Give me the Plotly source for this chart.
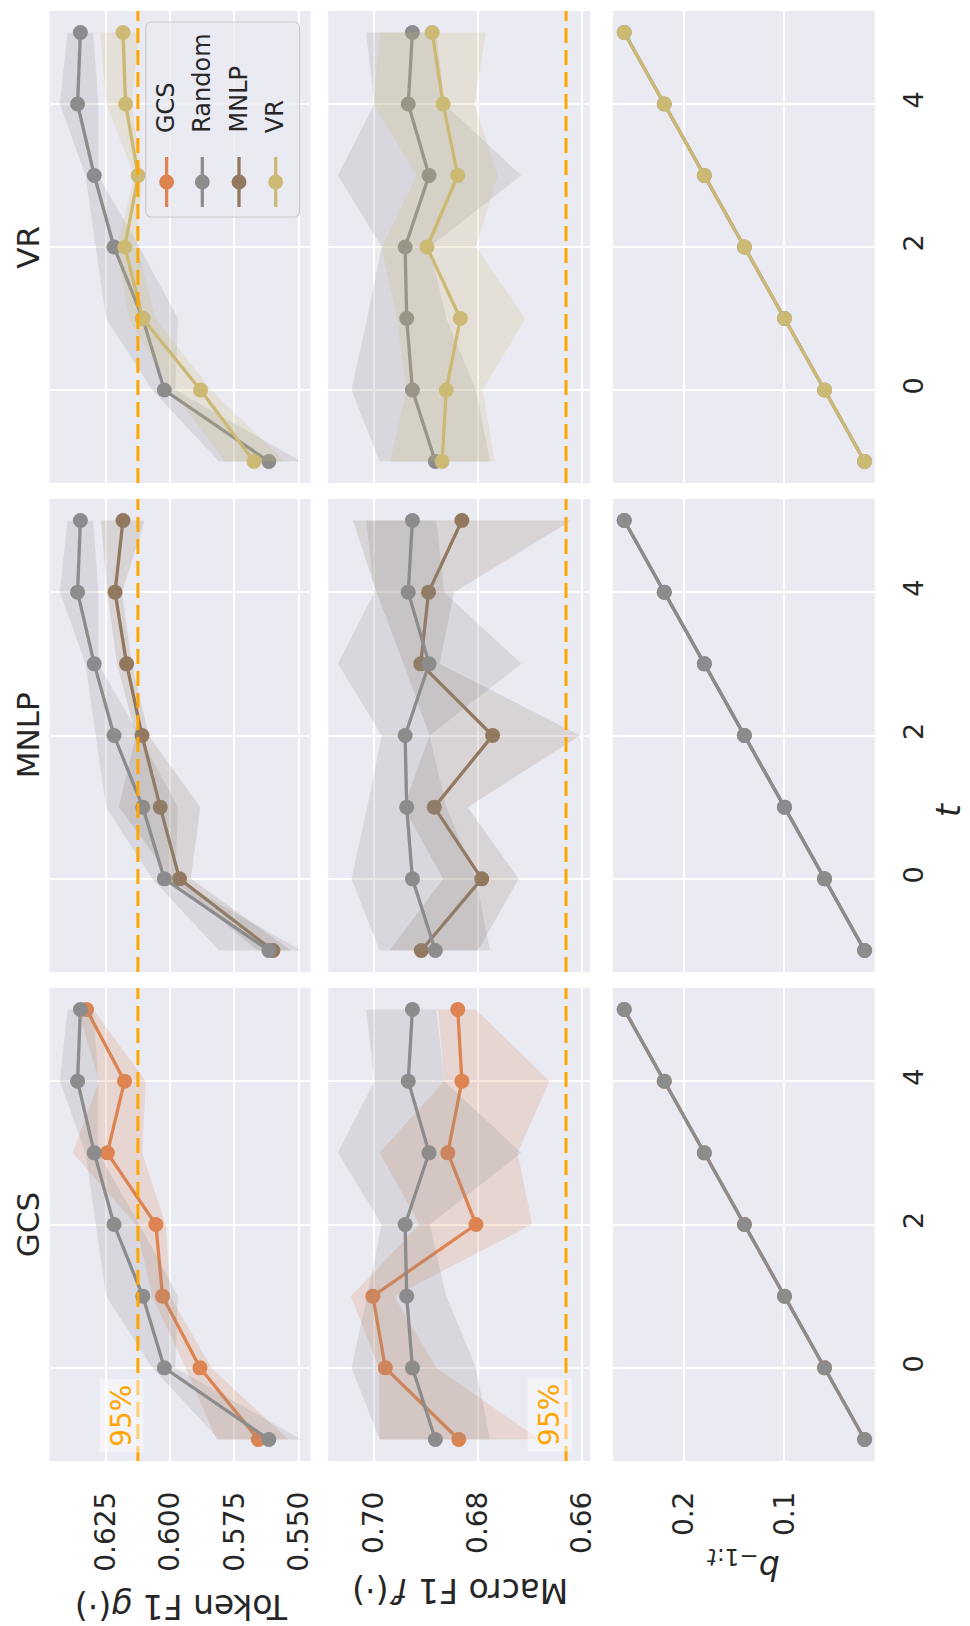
import plotly.graph_objects as go
from plotly.subplots import make_subplots

W, H = 970, 1626

# ---- data -------------------------------------------------------------
t_steps = [-1, 0, 1, 2, 3, 4, 5]
datasets = ["VR", "MNLP", "GCS"]          # top band -> bottom band
methods = ["GCS", "Random", "MNLP", "VR"]
colors = {"GCS": "#DD8452", "Random": "#8C8C8C", "MNLP": "#937860", "VR": "#CCB974"}
fills = {"GCS": "rgba(221,132,82,0.2)", "Random": "rgba(140,140,140,0.2)",
         "MNLP": "rgba(147,120,96,0.2)", "VR": "rgba(204,185,116,0.2)"}

# Token F1 g(.)
token_mean = {
    "Random": [0.5616, 0.6023, 0.6107, 0.6219, 0.6296, 0.6361, 0.6350],
    "GCS":    [0.5657, 0.5884, 0.6030, 0.6056, 0.6245, 0.6178, 0.6326],
    "MNLP":   [0.5600, 0.5964, 0.6039, 0.6110, 0.6170, 0.6215, 0.6184],
    "VR":     [0.5674, 0.5882, 0.6107, 0.6177, 0.6125, 0.6174, 0.6184],
}
token_lo = {
    "Random": [0.549, 0.598, 0.597, 0.612, 0.628, 0.628, 0.630],
    "GCS":    [0.554, 0.584, 0.600, 0.6018, 0.611, 0.6095, 0.630],
    "MNLP":   [0.553, 0.592, 0.5883, 0.6084, 0.615, 0.6188, 0.610],
    "VR":     [0.5555, 0.584, 0.6057, 0.613, 0.611, 0.615, 0.6123],
}
token_hi = {
    "Random": [0.581, 0.607, 0.625, 0.629, 0.633, 0.643, 0.640],
    "GCS":    [0.582, 0.594, 0.607, 0.6134, 0.638, 0.6277, 0.636],
    "MNLP":   [0.566, 0.5995, 0.620, 0.6134, 0.6207, 0.6246, 0.627],
    "VR":     [0.5786, 0.5995, 0.6161, 0.6207, 0.614, 0.625, 0.6273],
}

# Macro F1 f'(.)
macro_mean = {
    "Random": [0.6882, 0.6926, 0.6937, 0.6940, 0.6894, 0.6934, 0.6926],
    "GCS":    [0.6837, 0.6978, 0.7002, 0.6804, 0.6858, 0.6831, 0.6839],
    "MNLP":   [0.6909, 0.6793, 0.6884, 0.6772, 0.6910, 0.6895, 0.6831],
    "VR":     [0.6869, 0.6861, 0.6834, 0.6898, 0.6839, 0.6867, 0.6888],
}
macro_lo = {
    "Random": [0.6777, 0.6804, 0.6861, 0.6893, 0.6717, 0.6865, 0.6880],
    "GCS":    [0.6682, 0.6880, 0.6961, 0.6696, 0.6724, 0.6663, 0.6804],
    "MNLP":   [0.6800, 0.6722, 0.6820, 0.6604, 0.6874, 0.6846, 0.6621],
    "VR":     [0.6768, 0.6791, 0.6709, 0.6804, 0.6762, 0.6807, 0.6785],
}
macro_hi = {
    "Random": [0.6989, 0.7043, 0.7013, 0.6985, 0.7069, 0.6999, 0.7015],
    "GCS":    [0.6989, 0.6990, 0.7044, 0.6912, 0.6989, 0.6865, 0.6877],
    "MNLP":   [0.6970, 0.6867, 0.6943, 0.6893, 0.6943, 0.6995, 0.7040],
    "VR":     [0.6969, 0.6937, 0.6956, 0.6985, 0.6918, 0.7001, 0.6988],
}

# labelled fraction b_{-1:t}
b_frac = [0.02, 0.06, 0.10, 0.14, 0.18, 0.22, 0.26]

thr_token = 0.6126   # 95% of full-data token F1
thr_macro = 0.6631   # 95% of full-data macro F1

token_ticks = [0.550, 0.575, 0.600, 0.625]
token_ticktext = ["0.550", "0.575", "0.600", "0.625"]
macro_ticks = [0.66, 0.68, 0.70]
macro_ticktext = ["0.66", "0.68", "0.70"]
b_ticks = [0.1, 0.2]
b_ticktext = ["0.1", "0.2"]
t_ticks = [0, 2, 4]

# drawing order inside each band
draw_order = {"GCS": ["GCS", "Random"], "MNLP": ["MNLP", "Random"], "VR": ["Random", "VR"]}

# ---- style ------------------------------------------------------------
FONT = "DejaVu Sans"
TXT = "#262626"
BG = "#EAEAF2"
XTICK_SIZE = 28
YTICK_SIZE = 27
LABEL_SIZE = 33

col_px = [(50, 313), (331, 595), (618, 882)]
row_px = [(11, 483), (499, 972), (988, 1461)]


def px_x(x):
    return x / W


def px_y(y):
    return 1 - y / H


def axid(idx):
    return "" if idx == 1 else str(idx)


fig = make_subplots(rows=3, cols=3)

for r, ds in enumerate(datasets, start=1):
    for c in range(1, 4):
        for m in draw_order[ds]:
            if c == 1:
                mean, lo, hi = token_mean[m], token_lo[m], token_hi[m]
            elif c == 2:
                mean, lo, hi = macro_mean[m], macro_lo[m], macro_hi[m]
            else:
                mean, lo, hi = b_frac, None, None
            if lo is not None:
                fig.add_trace(go.Scatter(
                    x=hi + lo[::-1], y=t_steps + t_steps[::-1],
                    fill="toself", fillcolor=fills[m], mode="lines",
                    line=dict(width=0), hoverinfo="skip", showlegend=False),
                    row=r, col=c)
            fig.add_trace(go.Scatter(
                x=mean, y=t_steps, mode="lines+markers", name=m,
                line=dict(color=colors[m], width=3.3),
                marker=dict(color=colors[m], size=15, line=dict(width=0)),
                showlegend=False),
                row=r, col=c)

# axes
x_ranges = [[0.6470, 0.5454], [0.70876, 0.65848], [0.2713, 0.0099]]
x_tickvals = [token_ticks, macro_ticks, b_ticks]
x_ticktext = [token_ticktext, macro_ticktext, b_ticktext]

for r in range(1, 4):
    y0, y1 = row_px[r - 1]
    for c in range(1, 4):
        x0, x1 = col_px[c - 1]
        fig.update_xaxes(
            domain=[px_x(x0), px_x(x1)], range=x_ranges[c - 1],
            tickvals=x_tickvals[c - 1], ticktext=x_ticktext[c - 1],
            showticklabels=(r == 3), tickangle=-90, ticklabelstandoff=24,
            tickfont=dict(family=FONT, size=XTICK_SIZE, color=TXT),
            showgrid=True, gridcolor="white", gridwidth=2,
            zeroline=False, showline=False, ticks="",
            row=r, col=c)
        fig.update_yaxes(
            domain=[px_y(y1), px_y(y0)], range=[-1.3, 5.3],
            tickvals=t_ticks, showticklabels=(c == 3), side="right",
            tickangle=-90, ticklabelstandoff=20,
            tickfont=dict(family=FONT, size=YTICK_SIZE, color=TXT),
            showgrid=True, gridcolor="white", gridwidth=2,
            zeroline=False, showline=False, ticks="",
            row=r, col=c)

# 95% reference lines
for r in range(1, 4):
    for c, thr in ((1, thr_token), (2, thr_macro)):
        a = axid((r - 1) * 3 + c)
        fig.add_shape(type="line", xref=f"x{a}", yref=f"y{a} domain",
                      x0=thr, x1=thr, y0=0, y1=1, layer="above",
                      line=dict(color="#FFA500", width=3, dash="15px,7px"))

annotations = []
for c, thr in ((1, thr_token), (2, thr_macro)):
    a = axid(6 + c)
    annotations.append(dict(
        xref=f"x{a}", yref=f"y{a}", x=thr, y=-1.18,
        xanchor="right", yanchor="bottom", xshift=6,
        text="95%", textangle=-90, showarrow=False,
        font=dict(family=FONT, size=28, color="#FFA500"),
        bgcolor="rgba(255,255,255,0.45)", borderpad=5))

# band titles
for r, ds in enumerate(datasets):
    y0, y1 = row_px[r]
    annotations.append(dict(
        xref="paper", yref="paper", x=px_x(28), y=px_y((y0 + y1) / 2),
        xanchor="center", yanchor="middle", text=ds, textangle=-90,
        showarrow=False, font=dict(family=FONT, size=31, color=TXT)))

# axis labels
annotations += [
    dict(xref="paper", yref="paper", x=px_x(183), y=px_y(1607),
         xanchor="center", yanchor="middle", textangle=180, showarrow=False,
         text="Token F1 <i>g</i>(·)", font=dict(family=FONT, size=LABEL_SIZE, color=TXT)),
    dict(xref="paper", yref="paper", x=px_x(464), y=px_y(1591),
         xanchor="center", yanchor="middle", textangle=180, showarrow=False,
         text="Macro F1 <i>f</i>′(·)", font=dict(family=FONT, size=LABEL_SIZE, color=TXT)),
    dict(xref="paper", yref="paper", x=px_x(749), y=px_y(1566),
         xanchor="center", yanchor="middle", textangle=180, showarrow=False,
         text="<i>b</i><sub>−1:<i>t</i></sub>", font=dict(family=FONT, size=LABEL_SIZE, color=TXT)),
    dict(xref="paper", yref="paper", x=px_x(956), y=px_y(810),
         xanchor="center", yanchor="middle", textangle=-90, showarrow=False,
         text="<i>t</i>", font=dict(family=FONT, size=LABEL_SIZE, color=TXT)),
]

# legend drawn inside the VR token panel
lx0, lx1, ly0, ly1, rad = 147, 302, 22, 217, 6


def rounded_path(x0, y0, x1, y1, r):
    X = lambda v: px_x(v)
    Y = lambda v: px_y(v)
    return (f"M{X(x0 + r)},{Y(y0)} L{X(x1 - r)},{Y(y0)} Q{X(x1)},{Y(y0)} {X(x1)},{Y(y0 + r)} "
            f"L{X(x1)},{Y(y1 - r)} Q{X(x1)},{Y(y1)} {X(x1 - r)},{Y(y1)} "
            f"L{X(x0 + r)},{Y(y1)} Q{X(x0)},{Y(y1)} {X(x0)},{Y(y1 - r)} "
            f"L{X(x0)},{Y(y0 + r)} Q{X(x0)},{Y(y0)} {X(x0 + r)},{Y(y0)} Z")


fig.add_shape(type="path", xref="paper", yref="paper", layer="above",
              path=rounded_path(lx0, ly0, lx1, ly1, rad),
              fillcolor="rgba(234,234,242,0.8)", line=dict(color="#CCCCCC", width=1.2))

legend_x = [168, 204, 241, 278]
for m, cx in zip(methods, legend_x):
    fig.add_shape(type="line", xref="paper", yref="paper", layer="above",
                  x0=px_x(cx), x1=px_x(cx), y0=px_y(157), y1=px_y(207),
                  line=dict(color=colors[m], width=3.3))
    fig.add_shape(type="circle", xref="paper", yref="paper", layer="above",
                  x0=px_x(cx - 7.5), x1=px_x(cx + 7.5), y0=px_y(182 + 7.5), y1=px_y(182 - 7.5),
                  fillcolor=colors[m], line=dict(width=0))
    annotations.append(dict(
        xref="paper", yref="paper", x=px_x(cx), y=px_y(135),
        xanchor="center", yanchor="bottom", text=m, textangle=-90,
        showarrow=False, font=dict(family=FONT, size=24, color=TXT)))

fig.update_layout(
    width=W, height=H, margin=dict(l=0, r=0, t=0, b=0),
    paper_bgcolor="white", plot_bgcolor=BG,
    showlegend=False, annotations=annotations,
    font=dict(family=FONT, color=TXT),
)

fig.write_html("out.html")
